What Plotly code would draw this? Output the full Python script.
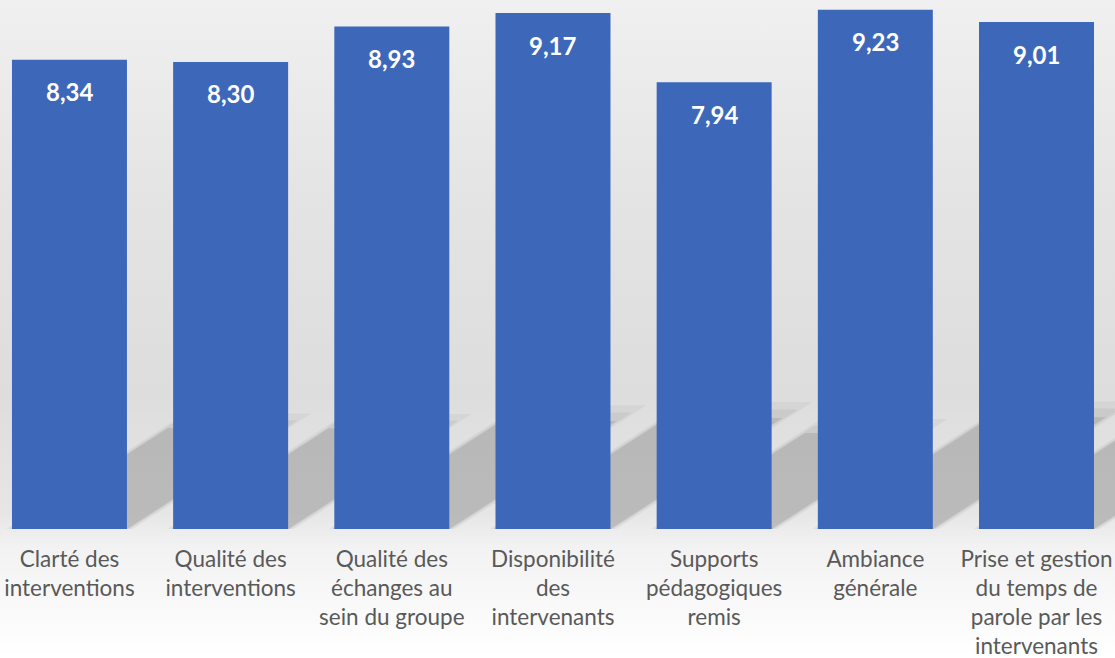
import base64
import plotly.graph_objects as go

categories = [
    "Clarté des<br>interventions",
    "Qualité des<br>interventions",
    "Qualité des<br>échanges au<br>sein du groupe",
    "Disponibilité<br>des<br>intervenants",
    "Supports<br>pédagogiques<br>remis",
    "Ambiance<br>générale",
    "Prise et gestion<br>du temps de<br>parole par les<br>intervenants",
]
values = [8.34, 8.30, 8.93, 9.17, 7.94, 9.23, 9.01]
value_labels = [f"{v:.2f}".replace(".", ",") for v in values]

BAR_COLOR = "#3D68B9"
LABEL_COLOR = "#595959"
BAR_WIDTH = 0.7135

H, W = 658, 1115
B = 129
Y_MAX = 529 / 56.27

svg = """<svg xmlns='http://www.w3.org/2000/svg' width='1115' height='658' viewBox='0 0 1115 658' preserveAspectRatio='none'>
<defs><linearGradient id='g' x1='0' y1='0' x2='0' y2='1'>
<stop offset='0' stop-color='#F0F0F0'/>
<stop offset='0.30' stop-color='#E4E4E4'/>
<stop offset='0.60' stop-color='#DDDDDD'/>
<stop offset='0.78' stop-color='#E6E6E6'/>
<stop offset='0.83' stop-color='#F2F2F2'/>
<stop offset='1' stop-color='#FFFFFF'/>
</linearGradient></defs>
<rect width='1115' height='658' fill='url(#g)'/></svg>"""
bg_uri = "data:image/svg+xml;base64," + base64.b64encode(svg.encode()).decode()

x_idx = list(range(len(categories)))

fig = go.Figure(
    go.Bar(
        x=x_idx,
        y=values,
        width=BAR_WIDTH,
        marker=dict(color=BAR_COLOR, line=dict(width=0)),
        hoverinfo="skip",
    )
)

# soft cast shadows behind each bar (decoration), derived from the bar values
for i, v in enumerate(values):
    left, right = i - BAR_WIDTH / 2, i + BAR_WIDTH / 2
    for grow, frac, op in [(0.035, 1.03, 0.16), (0.015, 0.97, 0.22), (0.0, 0.9, 0.5)]:
        dx = 0.129 * v * frac
        dy = 0.239 * v * frac
        path = (
            f"M {left - grow},0 L {right + grow},0 "
            f"L {right + dx + grow},{dy} L {left + dx - grow},{dy} Z"
        )
        fig.add_shape(
            type="path", path=path, xref="x", yref="y",
            fillcolor="#A6A6A6", opacity=op, line=dict(width=0), layer="below",
        )

for i, (v, t) in enumerate(zip(values, value_labels)):
    fig.add_annotation(
        x=i, y=v, text=f"<b>{t}</b>", showarrow=False,
        yanchor="middle", yshift=-32,
        font=dict(family="Lato", size=24, color="white"),
    )

fig.add_layout_image(
    source=bg_uri, xref="paper", yref="paper",
    x=0, y=1, sizex=1, sizey=H / (H - B), xanchor="left", yanchor="top",
    sizing="stretch", layer="below",
)

fig.update_layout(
    width=W, height=H,
    margin=dict(l=0, r=0, t=0, b=B, pad=0),
    paper_bgcolor="white",
    plot_bgcolor="rgba(0,0,0,0)",
    showlegend=False,
    xaxis=dict(
        range=[-0.431, 6.487], tickvals=x_idx, ticktext=categories,
        showgrid=False, zeroline=False, showline=False, ticks="",
        tickfont=dict(family="Lato", size=22.5, color=LABEL_COLOR),
        ticklabelstandoff=14, automargin=False,
    ),
    yaxis=dict(range=[0, Y_MAX], visible=False, showgrid=False, automargin=False),
)

fig.write_html(
    "out.html",
    config={"displayModeBar": False},
    post_script="document.body.style.margin='0';document.body.style.overflow='hidden';",
)
